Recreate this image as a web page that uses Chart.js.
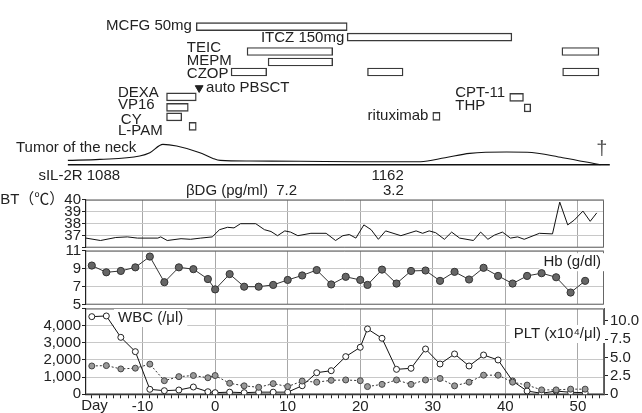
<!DOCTYPE html>
<html>
<head>
<meta charset="utf-8">
<script src="https://cdn.jsdelivr.net/npm/chart.js@4/dist/chart.umd.min.js"></script>
<style>
  html, body { margin: 0; padding: 0; background: #fff; }
  #wrap { position: relative; width: 642px; height: 413px; }
  #wrap canvas { position: absolute; left: 0; top: 0; }
</style>
</head>
<body>
<div id="wrap">
  <canvas id="drugs" width="642" height="413"></canvas>
  <canvas id="tumor" width="642" height="413"></canvas>
  <canvas id="bt" width="642" height="413"></canvas>
  <canvas id="hb" width="642" height="413"></canvas>
  <canvas id="wbc" width="642" height="413"></canvas>
</div>
<script>
// ---- data (days from transplant) ----
var courseDrug  = ['MCFG', 'ITCZ', 'TEIC', 'TEIC', 'MEPM', 'CZOP', 'CZOP', 'CZOP', 'DEXA', 'VP16', 'CY', 'L-PAM', 'rituximab', 'CPT-11', 'THP'];
var courseStart = [-2.6, 18.2, 4.4, 47.8, 7.3, 2.2, 21.0, 47.9, -6.7, -6.7, -6.7, -3.6, 30.0, 40.6, 42.6];
var courseEnd   = [18.2, 40.9, 16.2, 52.9, 16.2, 7.1, 25.9, 52.9, -2.6, -3.7, -4.6, -2.6, 31.0, 42.5, 43.5];
var pbsctDay = -2.2;

var tumorDays = [-20.3, -15.9, -10.4, -9.0, -7.2, -5.3, -2.1, -0.3, 0.7, 4.8, 11.7, 20.0, 28.3, 31.7, 35.1, 40.2, 43.0, 47.9, 53.1];
var tumorSize = [4.3, 5.3, 8.7, 12, 20.3, 18.7, 12, 6.3, 4.3, 3.7, 3.5, 3, 3, 7, 11.3, 12.7, 12.5, 7, 0];
var deathDay = 53.3;

var sil2rDays = [-13.1, 26];
var sil2rVals = [1088, 1162];
var bdgDays = [11.3, 26];
var bdgVals = [7.2, 3.2];

var btDays  = [-17.8, -15.8, -13.7, -12.1, -10.7, -7.9, -7.5, -6.6, -4.7, -3.4, -2.0, -0.4, 0.6, 1.7, 2.6, 3.5, 5.6, 6.8, 7.7, 8.6,
               9.6, 10.4, 11.4, 13.2, 15.3, 16.6, 17.6, 18.5, 19.4, 20.5, 21.5, 22.5, 23.5, 25.6, 27.7, 28.6, 29.5, 30.4, 31.6, 32.6,
               33.7, 35.6, 36.6, 37.6, 38.5, 39.6, 40.7, 41.7, 42.6, 44.7, 46.5, 47.5, 48.6, 49.5, 50.7, 51.7, 52.6];
var btTemps = [36.8, 36.6, 36.85, 36.9, 36.8, 36.8, 36.9, 36.6, 36.75, 36.7, 36.8, 36.9, 37.5, 37.7, 37.65, 38.0, 38.0, 37.5, 37.35, 37.0,
               37.4, 37.3, 37.0, 37.2, 37.2, 36.6, 37.0, 37.1, 36.8, 37.9, 37.5, 36.7, 37.4, 37.0, 37.4, 37.2, 37.4, 37.25, 36.7, 37.3,
               36.8, 36.6, 37.3, 36.7, 37.05, 37.3, 36.8, 36.9, 36.7, 37.2, 37.15, 39.8, 37.9, 38.3, 39.05, 38.2, 38.9];

var labDays = [-17, -15, -13, -11, -9, -7, -5, -3, -1, 0, 2, 4, 6, 8, 10, 12, 14, 16, 18, 20,
               21, 23, 25, 27, 29, 31, 33, 35, 37, 39, 41, 43, 45, 47, 49, 51];
var hb  = [9.35, 8.6, 8.75, 9.15, 10.35, 7.5, 9.15, 8.95, 7.85, 6.7, 8.4, 7.0, 7.0, 7.2, 7.75, 8.25, 8.85, 7.25, 8.1, 7.75,
           7.2, 8.9, 7.35, 8.75, 8.8, 7.65, 8.65, 7.8, 9.1, 8.2, 7.35, 8.2, 8.5, 8.05, 6.35, 7.65];
var wbc = [4525, 4565, 3320, 2485, 290, 210, 250, 425, 150, 95, 125, 95, 125, 125, 125, 500, 1260, 1375, 2195, 2740,
           3810, 3265, 1455, 1515, 2640, 1765, 2350, 1650, 2290, 2000, 775, 190, 60, 190, 115, 95];
var plt = [3.85, 3.9, 3.45, 3.55, 4.1, 1.85, 2.4, 2.55, 2.25, 2.55, 1.5, 1.15, 0.95, 1.45, 1.05, 1.8, 1.65, 1.9, 1.95, 1.85,
           1.05, 1.35, 1.95, 1.35, 1.95, 2.15, 1.15, 1.65, 2.6, 2.6, 1.65, 1.25, 0.6, 0.6, 0.7, 0.7];

var btTicks = [36, 37, 38, 39, 40];
var hbTicks = [5, 7, 9, 11];
var wbcTicks = [0, 1000, 2000, 3000, 4000, 5000];
var pltTicks = [0, 2.5, 5, 7.5, 10];

// ---- shared setup ----
var FONT = '"Liberation Sans", Arial, "Noto Sans CJK JP", sans-serif';
Chart.defaults.font.family = FONT;
Chart.defaults.font.size = 15;
Chart.defaults.color = '#222';
Chart.defaults.animation = false;
Chart.defaults.plugins.legend.display = false;
Chart.defaults.plugins.tooltip.enabled = false;

var X_MIN = -17.8, X_MAX = 53.6;
var GRID_V = '#a8a8a8', GRID_H = '#c8c8c8';

// drug row placement (layout only)
var lane = { MCFG: 0, ITCZ: 2.1, TEIC: 5, MEPM: 7.1, CZOP: 9.1, PBSCT: 12.3, DEXA: 14.1, VP16: 16.2, CY: 18.1,
             'L-PAM': 20, rituximab: 18, 'CPT-11': 14.2, THP: 16.3 };
var drugLabels = [
  { t: 'MCFG 50mg', d: -3.2, l: -0.1, a: 'right' },
  { t: 'ITCZ 150mg', d: 17.8, l: 2.2, a: 'right' },
  { t: 'TEIC', d: -3.9, l: 4.2, a: 'left' },
  { t: 'MEPM', d: -3.9, l: 6.9, a: 'left' },
  { t: 'CZOP', d: -3.9, l: 9.4, a: 'left' },
  { t: 'auto PBSCT', d: -1.25, l: 12.3, a: 'left' },
  { t: 'DEXA', d: -13.4, l: 13.3, a: 'left' },
  { t: 'VP16', d: -13.4, l: 15.7, a: 'left' },
  { t: 'CY', d: -13.0, l: 18.65, a: 'left' },
  { t: 'L-PAM', d: -13.4, l: 20.8, a: 'left' },
  { t: 'rituximab', d: 29.4, l: 17.8, a: 'right' },
  { t: 'CPT-11', d: 33.1, l: 13.3, a: 'left' },
  { t: 'THP', d: 33.1, l: 15.8, a: 'left' }
];

function drawNotes(chart, list) {
  var ctx = chart.ctx;
  ctx.save();
  list.forEach(function (n) {
    ctx.font = n.font || ('15px ' + FONT);
    ctx.textAlign = n.align || 'left';
    ctx.textBaseline = 'middle';
    if (n.bg) {
      var w = ctx.measureText(n.text).width;
      var x0 = n.align === 'right' ? n.x - w : n.x;
      ctx.fillStyle = '#fff';
      ctx.fillRect(x0 - 4, n.y - 9, w + 8, 18);
    }
    ctx.fillStyle = n.color || '#222';
    ctx.fillText(n.text, n.x, n.y);
  });
  ctx.restore();
}

// texts drawn on top of the data
function notes(fn) {
  return { id: 'notes', afterDatasetsDraw: function (chart) { drawNotes(chart, fn(chart)); } };
}
// texts drawn under the data (panel captions)
function captions(fn) {
  return { id: 'captions', beforeDatasetsDraw: function (chart) { drawNotes(chart, fn(chart)); } };
}

// top, right, bottom edges of a panel (left edge is the y axis line)
var panelBox = {
  id: 'panelBox',
  beforeDatasetsDraw: function (chart) {
    var a = chart.chartArea, ctx = chart.ctx;
    ctx.save();
    ctx.strokeStyle = '#666';
    ctx.lineWidth = 1;
    ctx.beginPath();
    ctx.moveTo(a.left, a.top + 0.5);
    ctx.lineTo(a.right - 0.5, a.top + 0.5);
    ctx.lineTo(a.right - 0.5, a.bottom - 0.5);
    ctx.lineTo(a.left, a.bottom - 0.5);
    ctx.stroke();
    ctx.restore();
  }
};

function hiddenX(gridOn) {
  return {
    type: 'linear', min: X_MIN, max: X_MAX,
    display: gridOn,
    afterBuildTicks: function (s) { s.ticks = [-10, 0, 10, 20, 30, 40, 50].map(function (v) { return { value: v }; }); },
    afterFit: function (s) { s.height = 0; },
    ticks: { display: false },
    grid: { color: GRID_V, drawTicks: false },
    border: { display: false }
  };
}

function leftY(min, max, ticks, fmt) {
  return {
    type: 'linear', min: min, max: max,
    afterBuildTicks: function (s) { s.ticks = ticks.map(function (v) { return { value: v }; }); },
    afterFit: function (s) { s.width = 86; },
    ticks: { padding: 1, autoSkip: false, callback: fmt },
    grid: { color: GRID_H, tickColor: '#222', tickLength: 4 },
    border: { color: '#222', width: 1.2 }
  };
}

// ---- drug administration bars ----
new Chart(document.getElementById('drugs'), {
  data: {
    datasets: [
      {
        type: 'bar', indexAxis: 'y',
        data: courseDrug.map(function (d, i) { return { x: [courseStart[i], courseEnd[i]], y: lane[d] }; }),
        backgroundColor: '#fff', borderColor: '#3a3a3a', borderWidth: 1.4, borderSkipped: false,
        barThickness: 8
      },
      {
        type: 'scatter',
        data: [{ x: pbsctDay, y: lane.PBSCT }],
        pointStyle: 'triangle', rotation: 180, radius: 4.5,
        backgroundColor: '#222', borderColor: '#222'
      }
    ]
  },
  options: {
    responsive: false,
    layout: { padding: { left: 86, right: 38, top: 0, bottom: 278 } },
    scales: {
      x: { type: 'linear', min: X_MIN, max: X_MAX, display: false, offset: false },
      y: { type: 'linear', min: -4.23, max: 21.73, reverse: true, display: false, offset: false }
    }
  },
  plugins: [notes(function (c) {
    return drugLabels.map(function (n) {
      return { text: n.t, x: c.scales.x.getPixelForValue(n.d), y: c.scales.y.getPixelForValue(n.l), align: n.a };
    });
  })]
});

// ---- tumor size, sIL-2R, beta-D-glucan ----
new Chart(document.getElementById('tumor'), {
  type: 'line',
  data: {
    datasets: [
      {
        data: [{ x: tumorDays[0], y: tumorSize[0] }, { x: tumorDays[0], y: 0 }, { x: 54.4, y: 0 }],
        borderColor: '#111', borderWidth: 1.4, pointRadius: 0, tension: 0, clip: false
      },
      {
        data: tumorDays.map(function (d, i) { return { x: d, y: tumorSize[i] }; }),
        borderColor: '#111', borderWidth: 1.1, pointRadius: 0, cubicInterpolationMode: 'monotone', clip: false
      }
    ]
  },
  options: {
    responsive: false,
    layout: { padding: { left: 86, right: 38, top: 139.7, bottom: 248.3 } },
    scales: {
      x: { type: 'linear', min: X_MIN, max: X_MAX, display: false },
      y: { type: 'linear', min: 0, max: 25, display: false }
    }
  },
  plugins: [notes(function (c) {
    var x = c.scales.x, y = c.scales.y;
    return [
      { text: 'Tumor of the neck', x: 16, y: 148 },
      { text: 'sIL-2R ' + sil2rVals[0], x: x.getPixelForValue(sil2rDays[0]), y: y.getPixelForValue(-11.3), align: 'right' },
      { text: String(sil2rVals[1]), x: x.getPixelForValue(sil2rDays[1]), y: y.getPixelForValue(-11.3), align: 'right' },
      { text: 'βDG (pg/ml)  ' + bdgVals[0].toFixed(1), x: x.getPixelForValue(bdgDays[0]), y: y.getPixelForValue(-26.3), align: 'right' },
      { text: bdgVals[1].toFixed(1), x: x.getPixelForValue(bdgDays[1]), y: y.getPixelForValue(-26.3), align: 'right' },
      { text: '†', x: x.getPixelForValue(deathDay), y: y.getPixelForValue(15), align: 'center', font: '20px ' + FONT, color: '#555' }
    ];
  })]
});

// ---- body temperature ----
new Chart(document.getElementById('bt'), {
  type: 'line',
  data: {
    datasets: [{
      data: btDays.map(function (d, i) { return { x: d, y: btTemps[i] }; }),
      borderColor: '#111', borderWidth: 1, pointRadius: 0, tension: 0
    }]
  },
  options: {
    responsive: false,
    layout: { padding: { left: 0, right: 38, top: 199.7, bottom: 165.3 } },
    scales: {
      x: hiddenX(true),
      y: leftY(36, 40, btTicks, function (v) { return v === 36 ? '' : (v === 40 ? 'BT（℃）40' : String(v)); })
    }
  },
  plugins: [panelBox]
});

// ---- hemoglobin ----
new Chart(document.getElementById('hb'), {
  type: 'line',
  data: {
    datasets: [{
      data: labDays.map(function (d, i) { return { x: d, y: hb[i] }; }),
      borderColor: '#333', borderWidth: 1, tension: 0,
      pointRadius: 3.6, pointBackgroundColor: '#666', pointBorderColor: '#333', pointBorderWidth: 1
    }]
  },
  options: {
    responsive: false,
    layout: { padding: { left: 0, right: 38, top: 250.7, bottom: 108.3 } },
    scales: {
      x: hiddenX(true),
      y: leftY(5, 11, hbTicks, function (v) { return String(v); })
    }
  },
  plugins: [panelBox, captions(function (c) {
    return [{ text: 'Hb (g/dl)', x: c.chartArea.right - 3, y: c.chartArea.top + 11.5, align: 'right', bg: true }];
  })]
});

// ---- WBC and platelets ----
new Chart(document.getElementById('wbc'), {
  type: 'line',
  data: {
    datasets: [
      {
        data: labDays.map(function (d, i) { return { x: d, y: plt[i] }; }),
        yAxisID: 'y1',
        borderColor: '#333', borderWidth: 1, borderDash: [2, 2], tension: 0,
        pointRadius: 3, pointBackgroundColor: '#9a9a9a', pointBorderColor: '#444', pointBorderWidth: 1
      },
      {
        data: labDays.map(function (d, i) { return { x: d, y: wbc[i] }; }),
        yAxisID: 'y',
        borderColor: '#111', borderWidth: 1, tension: 0,
        pointRadius: 3, pointBackgroundColor: '#fff', pointBorderColor: '#222', pointBorderWidth: 1
      }
    ]
  },
  options: {
    responsive: false,
    layout: { padding: { left: 0, right: 0, top: 308.5, bottom: 0 } },
    scales: {
      x: {
        type: 'linear', min: X_MIN, max: X_MAX,
        afterBuildTicks: function (s) {
          var t = [];
          for (var d = -17; d <= 53; d++) t.push({ value: d });
          s.ticks = t;
        },
        afterFit: function (s) { s.height = 18.7; },
        ticks: {
          autoSkip: false, maxRotation: 0, padding: 0,
          callback: function (v) { return v % 10 === 0 ? String(v) : ''; }
        },
        grid: {
          color: function (c) { return c.tick && c.tick.value % 10 === 0 ? GRID_V : 'rgba(0,0,0,0)'; },
          tickColor: '#222', tickLength: 4
        },
        border: { color: '#222', width: 1.2 }
      },
      y: leftY(0, 5000, wbcTicks, function (v) { return v === 5000 ? '' : v.toLocaleString('en-US'); }),
      y1: {
        type: 'linear', position: 'right', min: 0, max: 11.66,
        afterBuildTicks: function (s) { s.ticks = pltTicks.map(function (v) { return { value: v }; }); },
        afterFit: function (s) { s.width = 38; },
        ticks: { padding: 2, autoSkip: false, callback: function (v) { return v === 0 ? '0' : v.toFixed(1); } },
        grid: { drawOnChartArea: false, tickColor: '#222', tickLength: 4 },
        border: { color: '#555', width: 1 }
      }
    }
  },
  plugins: [panelBox, captions(function (c) {
    var a = c.chartArea;
    return [
      { text: 'WBC (/μl)', x: a.left + 32, y: a.top + 9.5, bg: true },
      { text: 'PLT (x10⁴/μl)', x: a.right - 3, y: a.top + 25.5, align: 'right', bg: true }
    ];
  }), notes(function () {
    return [{ text: 'Day', x: 94.5, y: 405.5, align: 'center' }];
  })]
});
</script>
</body>
</html>
